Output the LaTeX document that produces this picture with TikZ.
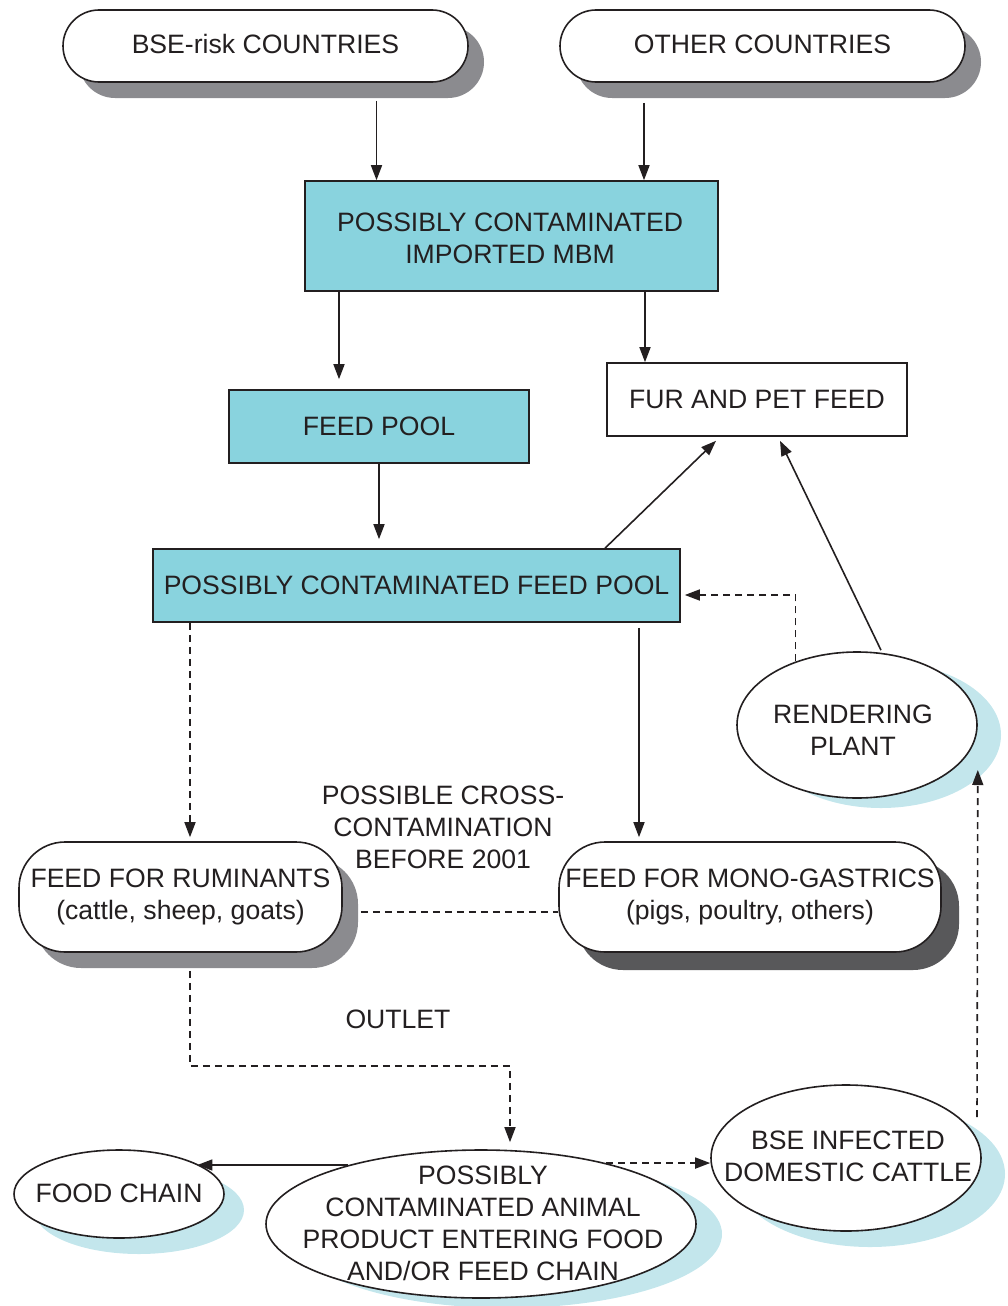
\documentclass[tikz,border=0pt]{standalone}
\usepackage{fontspec}
\setmainfont{Liberation Sans}
\usetikzlibrary{arrows.meta,shapes.geometric,shadows}
\definecolor{cyanfill}{HTML}{89D3DE}
\definecolor{shgray}{HTML}{8B8B8F}
\definecolor{shdark}{HTML}{58585A}
\definecolor{shblue}{HTML}{C3E6EC}
\definecolor{ink}{HTML}{231F20}
\begin{document}
\begin{tikzpicture}[x=1pt,y=-1pt,
  font=\fontsize{26.6}{32}\selectfont,
  pill/.style={rectangle, draw=ink, line width=1.6pt, fill=white, align=center, inner sep=0pt, text=ink},
  grayshadow/.style={general shadow={fill=shgray, draw=none, shadow xshift=16pt, shadow yshift=-16pt}},
  darkshadow/.style={general shadow={fill=shdark, draw=none, shadow xshift=18pt, shadow yshift=-18pt}},
  box/.style={rectangle, draw=ink, line width=1.6pt, align=center, inner sep=0pt, text=ink},
  oval/.style={ellipse, draw=ink, line width=1.6pt, fill=white, inner sep=0pt},
  txt/.style={align=center, inner sep=0pt, text=ink},
  arr/.style={-{Triangle[length=15pt,width=11pt]}, line width=1.6pt, draw=ink},
  darr/.style={arr, dash pattern=on 7pt off 5pt}]
\useasboundingbox (0,0) rectangle (1008,1306);

% top countries
\node[pill, grayshadow, rounded corners=36pt, minimum width=405pt, minimum height=72pt] (bse) at (265.5,46) {};
\node[txt] (bsetxt) at (265.5,44) {BSE-risk COUNTRIES};
\node[pill, grayshadow, rounded corners=36pt, minimum width=405pt, minimum height=72pt] (other) at (762.5,46) {};
\node[txt] (othertxt) at (762.5,44) {OTHER COUNTRIES};

% boxes
\node[box, fill=cyanfill, minimum width=413pt, minimum height=110pt] (mbm) at (511.5,236) {};
\node[txt] (mbmtxt) at (510,238) {POSSIBLY CONTAMINATED\\IMPORTED MBM};
\node[box, fill=cyanfill, minimum width=300pt, minimum height=73pt] (pool) at (379,426.5) {FEED POOL};
\node[box, fill=white, minimum width=300pt, minimum height=73pt] (fur) at (757,399.5) {FUR AND PET FEED};
\node[box, fill=cyanfill, minimum width=527pt, minimum height=73pt] (cpool) at (416.5,585.5) {POSSIBLY CONTAMINATED FEED POOL};

% rendering plant
\node[oval, general shadow={fill=shblue, draw=none, shadow xshift=24pt, shadow yshift=-10pt}, minimum width=240pt, minimum height=146pt] (render) at (857,725) {};
\node[txt] (rendertxt) at (853,730) {RENDERING\\PLANT};

% feed pills
\node[pill, grayshadow, rounded corners=46pt, minimum width=323pt, minimum height=110pt] (rum) at (180.5,897) {FEED FOR RUMINANTS\\(cattle, sheep, goats)};
\node[pill, darkshadow, rounded corners=46pt, minimum width=382pt, minimum height=110pt] (mono) at (750,897) {FEED FOR MONO-GASTRICS\\(pigs, poultry, others)};

\node[txt] (cross) at (443,827) {POSSIBLE CROSS-\\CONTAMINATION\\BEFORE 2001};
\node[txt] (outlet) at (398,1019) {OUTLET};

% bottom ellipses
\node[oval, general shadow={fill=shblue, draw=none, shadow xshift=20pt, shadow yshift=-16pt}, minimum width=210pt, minimum height=88pt] (food) at (119,1194) {};
\node[txt] (foodtxt) at (119,1193) {FOOD CHAIN};
\node[oval, general shadow={fill=shblue, draw=none, shadow xshift=26pt, shadow yshift=-10pt}, minimum width=430pt, minimum height=148pt] (prod) at (481,1224) {};
\node[txt] (prodtxt) at (483,1223) {POSSIBLY\\CONTAMINATED ANIMAL\\PRODUCT ENTERING FOOD\\AND/OR FEED CHAIN};
\node[oval, general shadow={fill=shblue, draw=none, shadow xshift=24pt, shadow yshift=-16pt}, minimum width=270pt, minimum height=146pt] (cattle) at (846,1158) {};
\node[txt] (cattletxt) at (848,1156) {BSE INFECTED\\DOMESTIC CATTLE};

% connectors
\draw[arr] ([xshift=111pt,yshift=-18pt]bse.south) -- ([xshift=-135pt]mbm.north);
\draw[arr] ([xshift=-118.5pt,yshift=-20pt]other.south) -- ([xshift=132.5pt]mbm.north);
\draw[arr] ([xshift=-172.5pt]mbm.south) -- ([xshift=-40pt,yshift=10pt]pool.north);
\draw[arr] ([xshift=133.5pt]mbm.south) -- ([xshift=-112pt]fur.north);
\draw[arr] (pool.south) -- ([yshift=9pt]pool.south |- cpool.north);
\draw[arr] ([xshift=188.5pt]cpool.north) -- ([xshift=-41pt,yshift=-4pt]fur.south);
\draw[arr] ([xshift=24pt,yshift=1pt]render.north) -- ([xshift=23pt,yshift=-4pt]fur.south);
\draw[darr] (render.134) |- ([xshift=4pt,yshift=-9.5pt]cpool.east);
\draw[darr] ([xshift=-226.5pt]cpool.south) -- ([xshift=9.5pt,yshift=4pt]rum.north);
\draw[arr] ([xshift=222.5pt,yshift=-5pt]cpool.south) -- ([xshift=-111pt,yshift=4pt]mono.north);
\draw[dash pattern=on 7pt off 5pt, line width=1.6pt, draw=ink] ([xshift=18pt,yshift=-15pt]rum.east) -- ([yshift=-15pt]mono.west);
\coordinate (bend) at (510,1066);
\draw[darr] ([xshift=9.5pt,yshift=-18pt]rum.south) |- (bend) -- ([xshift=29pt,yshift=7pt]prod.north);
\draw[arr] (prod.156) -- (food.21 |- prod.156);
\draw[darr] (prod.26) -- (cattle.west |- prod.26);
\draw[darr] ([xshift=131pt,yshift=41pt]cattle.center) -- ([yshift=-45pt]render.east);
\end{tikzpicture}
\end{document}
